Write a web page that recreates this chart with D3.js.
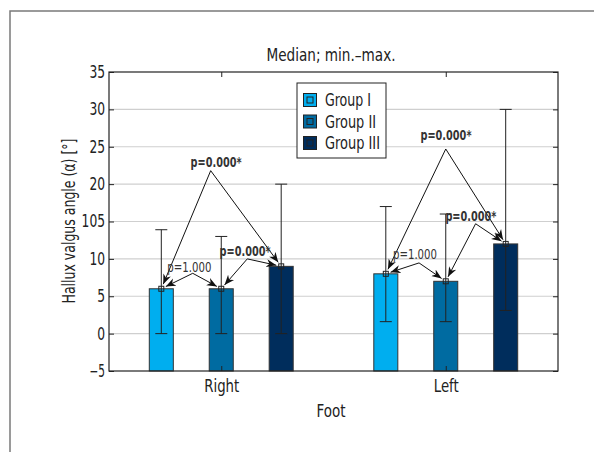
<!DOCTYPE html>
<html><head><meta charset="utf-8">
<script src="https://cdn.jsdelivr.net/npm/d3@7"></script>
<style>
html,body{margin:0;padding:0;background:#fff;}
svg text{font-family:"Liberation Sans Narrow","DejaVu Sans Condensed","Arial Narrow",sans-serif;}
</style></head>
<body><svg id="c" width="594" height="452"></svg>
<script>
// ---- data ----
const categories = ["Right", "Left"];
const groups = ["Group I", "Group II", "Group III"];
const medianI = [6, 8],   minI = [0, 1.6],   maxI = [13.9, 17];
const medianII = [6, 7],  minII = [0, 1.6],  maxII = [13, 16];
const medianIII = [9, 12], minIII = [0, 3.1], maxIII = [20, 30];
const yTickValues = [-5, 0, 5, 10, 15, 20, 25, 30, 35];
const yTickLabels = ["\u22125", "0", "5", "10", "105", "20", "25", "30", "35"];
const colors = ["#00aeef", "#006ba1", "#002d5c"];
// annotations: category index, from group, to group, apex (x in category units, y in data), label position
const annotations = [
  {cat: 0, a: 0, b: 2, apexX: 0.953, apexY: 21.8, lx: 0.977, ly: 22.9, text: "p=0.000*", bold: true},
  {cat: 0, a: 1, b: 2, apexX: 1.116, apexY: 10.0, lx: 1.106, ly: 11.1, text: "p=0.000*", bold: true},
  {cat: 0, a: 0, b: 1, apexX: 0.873, apexY: 8.07, lx: 0.858, ly: 8.9, text: "p=1.000", bold: false},
  {cat: 1, a: 0, b: 2, apexX: 2.0, apexY: 24.7, lx: 2.001, ly: 26.6, text: "p=0.000*", bold: true},
  {cat: 1, a: 1, b: 2, apexX: 2.133, apexY: 14.7, lx: 2.112, ly: 15.7, text: "p=0.000*", bold: true},
  {cat: 1, a: 0, b: 1, apexX: 1.881, apexY: 9.46, lx: 1.863, ly: 10.6, text: "p=1.000", bold: false}
];
const medians = [medianI, medianII, medianIII];
const mins = [minI, minII, minIII];
const maxs = [maxI, maxII, maxIII];

// ---- layout ----
const svg = d3.select("#c");
const L = 109, R = 558, T = 72, B = 371;
const x = d3.scaleLinear().domain([0.5, 2.5]).range([L, R]);
const y = d3.scaleLinear().domain([-5, 35]).range([B, T]);
const offsets = [-0.267, 0, 0.267];
const barW = 0.107;
const fit = (sel, w) => sel.attr("textLength", w).attr("lengthAdjust", "spacingAndGlyphs");

// outer frame
svg.append("path").attr("d", `M10,452 L10,11 L594,11`).attr("fill", "none")
  .attr("stroke", "#7a7a7a").attr("stroke-width", 1.5);

// grid
svg.append("g").selectAll("line").data(yTickValues.filter(v => v > -5 && v < 35)).join("line")
  .attr("x1", L).attr("x2", R).attr("y1", d => y(d)).attr("y2", d => y(d))
  .attr("stroke", "#cfcfcf").attr("stroke-width", 1.2);

// bars
const data = [];
categories.forEach((c, ci) => groups.forEach((g, gi) => data.push({
  ci, gi, xc: ci + 1 + offsets[gi], med: medians[gi][ci], lo: mins[gi][ci], hi: maxs[gi][ci]
})));
svg.append("g").selectAll("rect").data(data).join("rect")
  .attr("x", d => x(d.xc - barW / 2)).attr("width", d => x(d.xc + barW / 2) - x(d.xc - barW / 2))
  .attr("y", d => y(d.med)).attr("height", d => y(-5) - y(d.med))
  .attr("fill", d => colors[d.gi]).attr("stroke", "#333").attr("stroke-width", 1);

// error bars
const eb = svg.append("g").attr("stroke", "#222").attr("stroke-width", 1).attr("fill", "none");
data.forEach(d => {
  const cx = x(d.xc), cw = 6;
  eb.append("line").attr("x1", cx).attr("x2", cx).attr("y1", y(d.lo)).attr("y2", y(d.hi));
  eb.append("line").attr("x1", cx - cw).attr("x2", cx + cw).attr("y1", y(d.lo)).attr("y2", y(d.lo));
  eb.append("line").attr("x1", cx - cw).attr("x2", cx + cw).attr("y1", y(d.hi)).attr("y2", y(d.hi));
  eb.append("rect").attr("x", cx - 2.5).attr("y", y(d.med) - 2.5).attr("width", 5).attr("height", 5);
});

// axes box
svg.append("rect").attr("x", L).attr("y", T).attr("width", R - L).attr("height", B - T)
  .attr("fill", "none").attr("stroke", "#222").attr("stroke-width", 1.2);

// y ticks (inward) and labels
const yAxisL = d3.axisLeft(y).tickValues(yTickValues).tickSizeInner(-5).tickSizeOuter(0)
  .tickPadding(4).tickFormat((d, i) => yTickLabels[i]);
const gy = svg.append("g").attr("transform", `translate(${L},0)`).call(yAxisL);
gy.select(".domain").remove();
gy.selectAll("line").attr("stroke", "#222");
gy.selectAll("text").attr("font-size", 17).attr("fill", "#222")
  .each(function(d, i) { fit(d3.select(this), yTickLabels[i].length * 7.8); });
const yAxisR = d3.axisRight(y).tickValues(yTickValues).tickSizeInner(-5).tickSizeOuter(0).tickFormat("");
const gyr = svg.append("g").attr("transform", `translate(${R},0)`).call(yAxisR);
gyr.select(".domain").remove();
gyr.selectAll("line").attr("stroke", "#222");

// x ticks
const catWidths = [35, 25];
const xAxisB = d3.axisBottom(x).tickValues([1, 2]).tickSizeInner(-5).tickSizeOuter(0)
  .tickPadding(9).tickFormat((d, i) => categories[i]);
const gx = svg.append("g").attr("transform", `translate(0,${B})`).call(xAxisB);
gx.select(".domain").remove();
gx.selectAll("line").attr("stroke", "#222");
gx.selectAll("text").attr("font-size", 17).attr("fill", "#222")
  .each(function(d, i) { fit(d3.select(this), catWidths[i]); });
const xAxisT = d3.axisTop(x).tickValues([1, 2]).tickSizeInner(-5).tickSizeOuter(0).tickFormat("");
const gxt = svg.append("g").attr("transform", `translate(0,${T})`).call(xAxisT);
gxt.select(".domain").remove();
gxt.selectAll("line").attr("stroke", "#222");

// labels
fit(svg.append("text").attr("x", 331).attr("y", 61).attr("text-anchor", "middle")
  .attr("font-size", 17).attr("fill", "#222").text("Median; min.\u2013max."), 129);
fit(svg.append("text").attr("x", 331).attr("y", 417).attr("text-anchor", "middle")
  .attr("font-size", 17).attr("fill", "#222").text("Foot"), 29);
fit(svg.append("text").attr("transform", `translate(75,221) rotate(-90)`).attr("text-anchor", "middle")
  .attr("font-size", 17).attr("fill", "#222").text("Hallux valgus angle (\u03b1) [\u00b0]"), 165);

// arrow marker
svg.append("defs").append("marker").attr("id", "ah").attr("markerUnits", "userSpaceOnUse")
  .attr("viewBox", "-10 -5 11 10").attr("refX", 0).attr("refY", 0)
  .attr("markerWidth", 11).attr("markerHeight", 10).attr("orient", "auto")
  .append("path").attr("d", "M0,0 L-10,-4 L-7,0 L-10,4 Z").attr("fill", "#111");

// annotations
const ag = svg.append("g");
annotations.forEach(a => {
  const ax = x(a.apexX), ay = y(a.apexY);
  [a.a, a.b].forEach(gi => {
    const tx = x(a.cat + 1 + offsets[gi]), ty = y(medians[gi][a.cat]);
    const dx = tx - ax, dy = ty - ay, len = Math.hypot(dx, dy), s = (len - 5) / len;
    ag.append("line").attr("x1", ax).attr("y1", ay).attr("x2", ax + dx * s).attr("y2", ay + dy * s)
      .attr("stroke", "#111").attr("stroke-width", 1).attr("marker-end", "url(#ah)");
  });
  fit(ag.append("text").attr("x", x(a.lx)).attr("y", y(a.ly)).attr("dy", "0.35em").attr("text-anchor", "middle")
    .attr("font-size", 14).attr("font-weight", a.bold ? "bold" : "normal")
    .attr("fill", "#333").text(a.text), a.bold ? 51 : 44);
});

// legend
const legendWidths = [46, 51, 55];
const lg = svg.append("g");
lg.append("rect").attr("x", 297).attr("y", 83).attr("width", 89).attr("height", 75)
  .attr("fill", "#fff").attr("stroke", "#222").attr("stroke-width", 1);
groups.forEach((g, i) => {
  const cy = 100 + i * 21.5;
  lg.append("rect").attr("x", 303.5).attr("y", cy - 6.5).attr("width", 13).attr("height", 13)
    .attr("fill", colors[i]).attr("stroke", "#222").attr("stroke-width", 1);
  lg.append("rect").attr("x", 307).attr("y", cy - 3).attr("width", 6).attr("height", 6)
    .attr("fill", "none").attr("stroke", "#222").attr("stroke-width", 1);
  fit(lg.append("text").attr("x", 325).attr("y", cy).attr("dy", "0.36em").attr("font-size", 17)
    .attr("fill", "#222").text(g), legendWidths[i]);
});
</script></body></html>
